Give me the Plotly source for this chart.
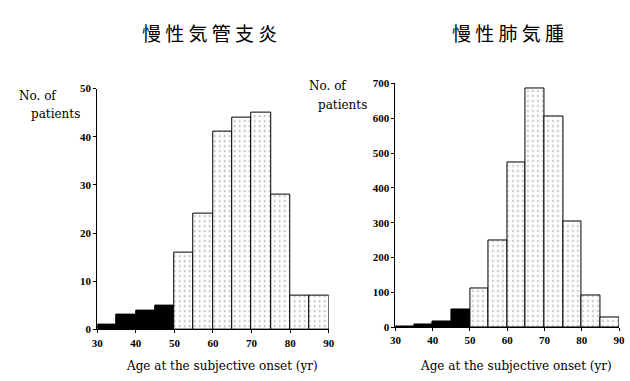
import plotly.graph_objects as go

bin_centers = [32.5, 37.5, 42.5, 47.5, 52.5, 57.5, 62.5, 67.5, 72.5, 77.5, 82.5, 87.5]
bronchitis_counts = [1, 3, 4, 5, 16, 24, 41, 44, 45, 28, 7, 7]
emphysema_counts = [3, 8, 18, 52, 110, 248, 472, 685, 605, 305, 90, 27]
early_onset = [True, True, True, True, False, False, False, False, False, False, False, False]
titles = ["慢 性 気 管 支 炎", "慢 性 肺 気 腫"]
x_ticks = [30, 40, 50, 60, 70, 80, 90]
left_yticks = [0, 10, 20, 30, 40, 50]
right_yticks = [0, 100, 200, 300, 400, 500, 600, 700]
x_title = "Age at the subjective onset (yr)"

W, H = 630, 381
serif = "Liberation Serif"
serif2 = "DejaVu Serif"

def bars(counts, xa, ya):
    traces = []
    for solid in (True, False):
        xs = [c for c, s in zip(bin_centers, early_onset) if s == solid]
        ys = [v for v, s in zip(counts, early_onset) if s == solid]
        marker = dict(line=dict(color="black", width=1))
        if solid:
            marker["color"] = "black"
        else:
            marker["color"] = "white"
            marker["pattern"] = dict(shape=".", fgcolor="#444", bgcolor="white", size=5, solidity=0.1)
        traces.append(go.Bar(x=xs, y=ys, width=5, marker=marker, xaxis=xa, yaxis=ya, showlegend=False))
    return traces

fig = go.Figure()
for t in bars(bronchitis_counts, "x", "y"):
    fig.add_trace(t)
for t in bars(emphysema_counts, "x2", "y2"):
    fig.add_trace(t)

tickfont = dict(family=serif, size=11, color="black", weight="bold")
axis_common = dict(showgrid=False, zeroline=False, showline=True, linecolor="black", linewidth=1,
                   ticks="outside", ticklen=3, tickcolor="black", tickfont=tickfont)

fig.update_layout(
    width=W, height=H, margin=dict(l=0, r=0, t=0, b=0),
    plot_bgcolor="white", paper_bgcolor="white", bargap=0,
    xaxis=dict(domain=[93 / W, 329 / W], range=[30, 90], tickvals=x_ticks, anchor="y", **axis_common),
    yaxis=dict(domain=[47 / H, (H - 85.3) / H], range=[0, 50], tickvals=left_yticks, anchor="x", **axis_common),
    xaxis2=dict(domain=[397 / W, 625 / W], range=[30, 90], tickvals=x_ticks, anchor="y2", **axis_common),
    yaxis2=dict(domain=[49.3 / H, (H - 80) / H], range=[0, 700], tickvals=right_yticks, anchor="x2", **axis_common),
)

cjk = dict(family="Noto Sans CJK JP", size=19, color="black")
lab = dict(family=serif2, size=12, color="black")
annos = [
    dict(text=titles[0], x=207, y=27, font=cjk),
    dict(text=titles[1], x=512, y=27, font=cjk),
    dict(text="No. of", x=33, y=93, font=lab),
    dict(text="patients", x=50, y=112, font=lab),
    dict(text="No. of", x=328, y=83, font=lab),
    dict(text="patients", x=343, y=102, font=lab),
    dict(text=x_title, x=220, y=372, font=lab),
    dict(text=x_title, x=520, y=372, font=lab),
]
for a in annos:
    fig.add_annotation(text=a["text"], x=a["x"] / W, y=1 - a["y"] / H, xref="paper", yref="paper",
                       showarrow=False, font=a["font"], xanchor="center", yanchor="middle")

fig.write_html("out.html")
